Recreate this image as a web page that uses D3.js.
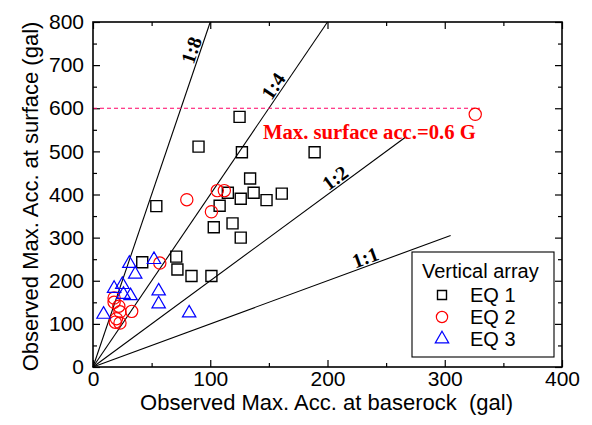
<!DOCTYPE html>
<html lang="en">
<head>
    <meta charset="UTF-8">
    <title>Max acc surface vs baserock</title>
    <script src="https://d3js.org/d3.v7.min.js"></script>
    <style>
        body { margin: 0; background: #fff; }
        text { font-family: "Liberation Sans", Arial, sans-serif; }
        .serif { font-family: "Liberation Serif", "Times New Roman", serif; font-weight: bold; }
    </style>
</head>
<body>
<script>
    const width = 592;
    const height = 425;

    // EQ 1 (squares)
    const eq1X = [125, 90, 127, 189, 134, 115, 126, 137, 148, 161, 54, 108, 103, 119, 126, 71, 42, 72, 84, 101];
    const eq1Y = [580, 511, 498, 498, 437, 404, 390, 404, 387, 402, 373, 374, 324, 333, 300, 256, 243, 226, 211, 211];
    // EQ 2 (circles)
    const eq2X = [326, 80, 106, 112, 101, 57, 18, 18, 22, 23, 33, 20, 19, 23];
    const eq2Y = [586, 388, 409, 409, 360, 241, 160, 150, 141, 128, 129, 112, 104, 102];
    // EQ 3 (triangles)
    const eq3X = [31, 52, 36, 18, 25, 26, 32, 56, 56, 9, 82];
    const eq3Y = [240, 249, 215, 182, 191, 168, 165, 176, 146, 122, 125];

    // ratio lines surface:baserock, drawn from origin to end x
    const ratioNames = ["1:1", "1:2", "1:4", "1:8"];
    const ratioValues = [1, 2, 4, 8];
    const ratioEndX = [305, 267, 200, 100];
    const ratioLabelAt = [0.77, 0.79, 0.80, 0.91];

    const xTicks = [0, 100, 200, 300, 400];
    const yTicks = [0, 100, 200, 300, 400, 500, 600, 700, 800];
    const limitAcc = 600;   // 0.6 G
    const limitEndX = 330;

    const svg = d3.select("body").append("svg")
            .attr("width", width).attr("height", height);

    const x = d3.scaleLinear().domain([0, 400]).range([93, 562]);
    const y = d3.scaleLinear().domain([0, 800]).range([367, 22]);

    // minor ticks
    const minorX = d3.range(50, 400, 100);
    const minorY = d3.range(50, 800, 100);

    function axisGroup(axis, tx, ty, labels) {
        const g = svg.append("g").attr("transform", `translate(${tx},${ty})`).call(axis);
        g.select(".domain").remove();
        g.selectAll(".tick line").attr("stroke", "#000").attr("stroke-width", 1.2);
        if (!labels) g.selectAll(".tick text").remove();
        else g.selectAll(".tick text").attr("fill", "#000").style("font-size", "21px")
                .style("font-family", "'Liberation Sans', Arial, sans-serif");
        return g;
    }

    axisGroup(d3.axisBottom(x).tickValues(xTicks).tickSize(-7).tickPadding(4), 0, 367, true);
    axisGroup(d3.axisBottom(x).tickValues(minorX).tickSize(-4), 0, 367, false);
    axisGroup(d3.axisTop(x).tickValues(xTicks).tickSize(-7), 0, 22, false);
    axisGroup(d3.axisTop(x).tickValues(minorX).tickSize(-4), 0, 22, false);
    axisGroup(d3.axisLeft(y).tickValues(yTicks).tickSize(-7).tickPadding(9), 93, 0, true);
    axisGroup(d3.axisLeft(y).tickValues(minorY).tickSize(-4), 93, 0, false);
    axisGroup(d3.axisRight(y).tickValues(yTicks).tickSize(-7), 562, 0, false);
    axisGroup(d3.axisRight(y).tickValues(minorY).tickSize(-4), 562, 0, false);

    // ratio lines
    const lines = ratioNames.map((n, i) => ({
        name: n, r: ratioValues[i], x1: ratioEndX[i], at: ratioLabelAt[i]
    }));

    svg.append("g").selectAll("line").data(lines).enter().append("line")
            .attr("x1", x(0)).attr("y1", y(0))
            .attr("x2", d => x(d.x1)).attr("y2", d => y(d.x1 * d.r))
            .attr("stroke", "#000").attr("stroke-width", 1.1);

    svg.append("g").selectAll("text").data(lines).enter().append("text")
            .attr("class", "serif")
            .attr("transform", d => {
                const px = x(d.x1 * d.at), py = y(d.x1 * d.at * d.r);
                const ang = Math.atan2(y(d.r * 100) - y(0), x(100) - x(0)) * 180 / Math.PI;
                return `translate(${px},${py}) rotate(${ang})`;
            })
            .attr("dy", -2)
            .attr("text-anchor", "middle")
            .style("font-size", "20px")
            .text(d => d.name);

    // 0.6 G limit
    svg.append("line")
            .attr("x1", x(0)).attr("x2", x(limitEndX))
            .attr("y1", y(limitAcc)).attr("y2", y(limitAcc))
            .attr("stroke", "#ff0066").attr("stroke-width", 1)
            .attr("stroke-dasharray", "4,3");
    svg.append("text").attr("class", "serif")
            .attr("x", 263).attr("y", 139)
            .attr("fill", "#ff0000")
            .style("font-size", "20.7px")
            .text("Max. surface acc.=0.6 G");

    // frame
    svg.append("rect")
            .attr("x", x(0)).attr("y", y(800))
            .attr("width", x(400) - x(0)).attr("height", y(0) - y(800))
            .attr("fill", "none").attr("stroke", "#000").attr("stroke-width", 1.6);

    // points
    const sq = d3.symbol().type(d3.symbolSquare).size(121);
    const ci = d3.symbol().type(d3.symbolCircle).size(118);
    const tr = d3.symbol().type(d3.symbolTriangle).size(78);

    function drawSeries(xs, ys, sym, color, sw) {
        svg.append("g").selectAll("path").data(xs.map((v, i) => [v, ys[i]])).enter()
                .append("path")
                .attr("transform", d => `translate(${x(d[0])},${y(d[1])})`)
                .attr("d", sym)
                .attr("fill", "none").attr("stroke", color).attr("stroke-width", sw);
    }
    drawSeries(eq1X, eq1Y, sq, "#000", 1.4);
    drawSeries(eq2X, eq2Y, ci, "#ff0000", 1.2);
    drawSeries(eq3X, eq3Y, tr, "#0000ff", 1.2);

    // legend
    const lg = svg.append("g");
    lg.append("rect").attr("x", 412).attr("y", 252).attr("width", 142).attr("height", 105)
            .attr("fill", "#fff").attr("stroke", "#000").attr("stroke-width", 1.1);
    lg.append("text").attr("x", 422).attr("y", 278).style("font-size", "20px").text("Vertical array");
    const legendItems = [
        ["EQ 1", d3.symbolSquare, 81, "#000", 1.4],
        ["EQ 2", d3.symbolCircle, 100, "#ff0000", 1.2],
        ["EQ 3", d3.symbolTriangle, 78, "#0000ff", 1.2]
    ];
    legendItems.forEach((it, i) => {
        const by = 302 + i * 22;
        lg.append("path").attr("transform", `translate(442,${by - 7})`)
                .attr("d", d3.symbol().type(it[1]).size(it[2]))
                .attr("fill", "none").attr("stroke", it[3]).attr("stroke-width", it[4]);
        lg.append("text").attr("x", 470).attr("y", by).style("font-size", "20px").text(it[0]);
    });

    // axis titles
    svg.append("text")
            .attr("x", (x(0) + x(400)) / 2 - 1).attr("y", 410)
            .attr("text-anchor", "middle").style("font-size", "22px")
            .style("white-space", "pre")
            .text("Observed Max. Acc. at baserock  (gal)");
    svg.append("text")
            .attr("transform", `translate(38,${(y(0) + y(800)) / 2 + 2}) rotate(-90)`)
            .attr("text-anchor", "middle").style("font-size", "22px")
            .text("Observed Max. Acc. at surface (gal)");
</script>
</body>
</html>
